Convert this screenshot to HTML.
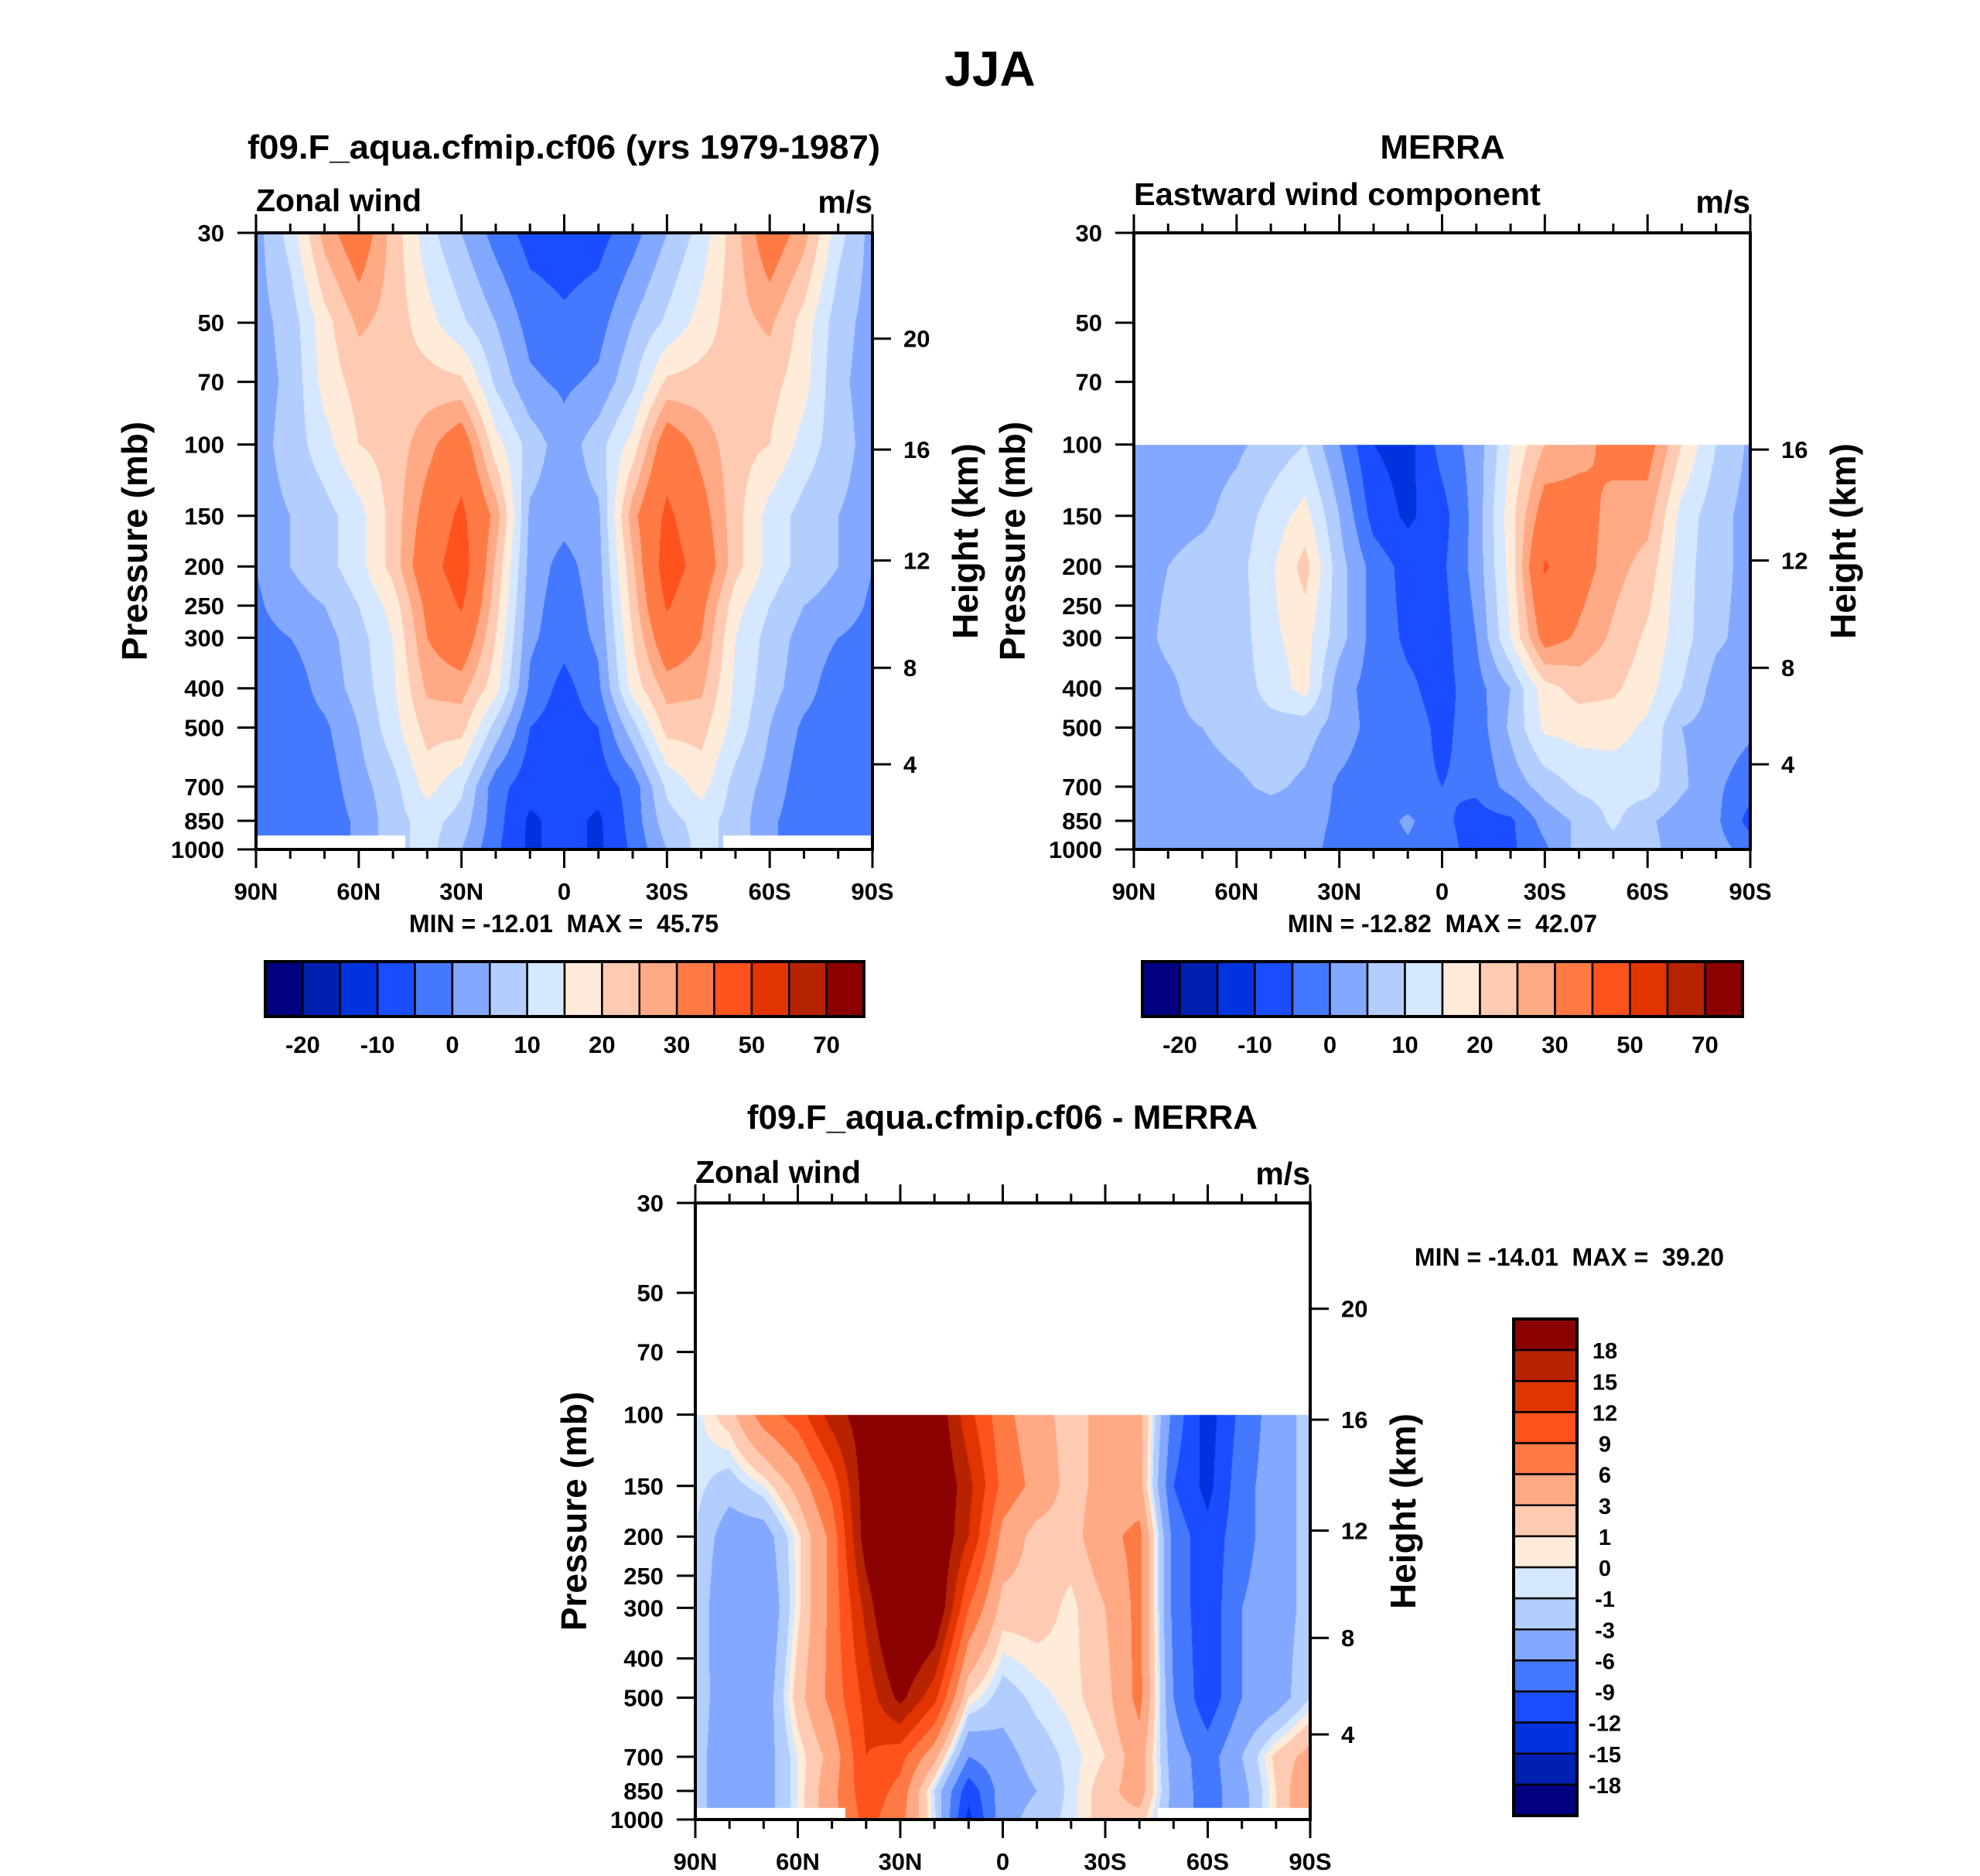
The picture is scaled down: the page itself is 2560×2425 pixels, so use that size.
<!DOCTYPE html>
<html><head><meta charset="utf-8"><style>
html,body{margin:0;padding:0;background:#fff;}
#wrap{position:relative;width:2560px;height:2425px;overflow:hidden;background:#fff;}
canvas{position:absolute;}
svg{position:absolute;left:0;top:0;}
text{font-family:"Liberation Sans",Arial,sans-serif;font-weight:bold;fill:#000;white-space:pre;}
</style></head><body>
<div id="wrap">
<canvas id="c1"></canvas>
<canvas id="c2"></canvas>
<canvas id="c3"></canvas>
<svg id="svg" width="2560" height="2425" viewBox="0 0 2560 2425"></svg>
</div>
<script>
// ---------- data ----------
const latLabels = ["90N","60N","30N","0","30S","60S","90S"];
const pTicks = [30,50,70,100,150,200,250,300,400,500,700,850,1000];
const colors = ["#000080","#0020b2","#0033dd","#1a4dff","#4478ff","#83a8ff","#b3cdff","#d6e8ff","#ffebda","#fecbb2","#ffaa85","#ff7a45","#ff521c","#e23400","#b72200","#8b0000"];
const levelsAbs = [-20,-15,-10,-5,0,5,10,15,20,25,30,40,50,60,70];
const levelsDiff = [-18,-15,-12,-9,-6,-3,-1,0,1,3,6,9,12,15,18];
const cbAbsLabels = ["-20","-10","0","10","20","30","50","70"];
const cbDiffLabels = ["-18","-15","-12","-9","-6","-3","-1","0","1","3","6","9","12","15","18"];

// model (lat 90N..90S every 10deg)
const modelP = [30,50,70,100,150,200,250,300,400,500,700,850,1000];
const model30  = [3,12,27,35,23,12,5,-2,-7,-8,-7,-2,5,12,23,35,27,12,3];
const model50  = [3,7,18,26,23,17,11,5,-2,-4,-2,5,11,17,23,26,18,7,3];
const model70  = [3,6,17,22,22,22,21,9,1,-1,1,9,21,22,22,22,17,6,3];
const model100 = [3,7,13,20,22,28,35,17,8,2,8,17,35,28,22,20,13,7,3];
const model150 = [3,5,8,13,22,33,42,28,4,2,4,28,42,33,22,13,8,5,3];
const model200 = [0,5,8,13,22,36,45,24,3,-2,3,24,45,36,22,13,8,5,0];
const model250 = [-1,3,5,10,17,32,41,22,2,-3,2,22,41,32,17,10,5,3,-1];
const model300 = [-2,0,3,8,15,30,36,20,1,-3,1,20,36,30,15,8,3,0,-2];
const model400 = [-3,-3,2,7,14,26,27,17,-1,-7,-1,17,27,26,14,7,2,-3,-3];
const model500 = [-3,-3,-1,5,13,22,22,8,-5,-8,-5,8,22,22,13,5,-1,-3,-3];
const model700 = [-3,-3,-3,3,8,17,11,-3,-8,-8,-8,-3,11,17,8,3,-3,-3,-3];
const model850 = [-3,-3,-3,1,8,12,8,-3,-11,-8,-11,-3,8,12,8,1,-3,-3,-3];
const model1000= [-3,-3,-3,1,8,12,5,-4,-11,-8,-11,-4,5,12,8,1,-3,-3,-3];

// MERRA
const merraP = [100,150,200,300,400,500,700,850,1000];
const merra100 = [2,3,3,4,7,10,0,-10,-12,-3,2,15,25,28,32,33,20,10,4];
const merra150 = [2,3,4,7,12,17,5,-7,-11,-7,2,18,34,33,28,27,13,7,3];
const merra200 = [3,5,7,8,14,22,7,-2,-7,-6,2,17,41,33,27,23,12,7,3];
const merra300 = [3,6,7,7,14,17,7,-2,-6,-7,0,15,33,29,24,19,12,6,3];
const merra400 = [3,4,7,7,12,17,2,-2,-4,-7,-2,5,18,22,21,17,10,3,2];
const merra500 = [3,4,5,7,8,7,3,-2,-3,-6,-3,6,16,17,17,14,5,3,1];
const merra700 = [2,3,3,4,6,4,-1,-3,-4,-5,-4,2,7,11,12,12,6,1,-3];
const merra850 = [2,2,2,2,2,2,-1,-3,1,-4,-7,-6,2,6,11,6,2,1,-7];
const merra1000= [2,1,2,2,2,2,-2,-3,-1,-3,-7,-6,-1,7,8,7,2,2,-2];

// difference
const diffP = [100,150,200,300,500,700,850,1000];
const diff100 = [-0.5,2,7.5,10.5,16.5,20,22,21,13,7,4,2,4,4,-7,-13.5,-8,-4.5,-2];
const diff150 = [-0.5,-2,0,4,10,20,22,22,16,8,5,2,4,4,-9,-13,-7,-4.5,-2];
const diff200 = [-1,-4.5,-4.5,0.5,7,20,25,22,15,5,2,2,5,7,-7,-11,-7,-4.5,-2];
const diff300 = [-1,-6,-6,0.5,7,16,25,22,9,2,2,0.5,3,7,-7,-11,-6,-4.5,-2];
const diff500 = [-1.5,-5,-5,2,7,13,19,13,1,-2,-0.5,0.5,2,7,-6,-11,-6,-4.5,-1];
const diff700 = [-2,-5,-4.5,0,4,12,10,4,-6,-4,-2,-0.5,1,4.5,-4.5,-7.5,-3,1.5,4];
const diff850 = [-2,-5,-4.5,0,5,11,8,-1,-11,-4.5,-3,-0.5,2,4.5,-4,-7.5,-4,1,6];
const diff1000= [-2,-5,-4.5,0,5,10,7,-0.5,-13,-4,-2,-0.5,2,2,-4,-7.5,-4,1,6];

const modelRows = [model30,model50,model70,model100,model150,model200,model250,model300,model400,model500,model700,model850,model1000];
const merraRows = [merra100,merra150,merra200,merra300,merra400,merra500,merra700,merra850,merra1000];
const diffRows = [diff100,diff150,diff200,diff300,diff500,diff700,diff850,diff1000];

// ---------- helpers ----------
const NS = "http://www.w3.org/2000/svg";
const svg = document.getElementById('svg');
function mk(tag, attrs, parent){ const e=document.createElementNS(NS,tag); for(const k in attrs) e.setAttribute(k,attrs[k]); (parent||svg).appendChild(e); return e; }
function txt(s, x, y, size, anchor, parent, extra){ const t=mk('text',Object.assign({x:x,y:y,'font-size':size,'text-anchor':anchor||'start'},extra||{}),parent); t.textContent=s; return t; }
const LOGR = Math.log10(1000/30);
function yOf(P,p){ return P.y + P.h*Math.log10(p/30)/LOGR; }
function xOf(P,i){ return P.x + P.w*i/18; }
function stdP(zkm){ const z=zkm*1000; if(z<=11000) return 1013.25*Math.pow(1-2.25577e-5*z,5.25588); return 226.32*Math.exp(-1.577e-4*(z-11000)); }
function hex(c){ return [parseInt(c.substr(1,2),16),parseInt(c.substr(3,2),16),parseInt(c.substr(5,2),16)]; }
const rgb = colors.map(hex);
function levelIndex(v, lev){ let k=0; while(k<lev.length && v>=lev[k]) k++; return k; }

function drawField(canvasId, P, pLev, rows, lev, mask){
  const cv=document.getElementById(canvasId);
  cv.width=P.w; cv.height=P.h; cv.style.left=P.x+'px'; cv.style.top=P.y+'px';
  const ctx=cv.getContext('2d'); const img=ctx.createImageData(P.w,P.h); const d=img.data;
  const lp=pLev.map(p=>Math.log10(p));
  for(let py=0;py<P.h;py++){
    const p=30*Math.pow(10,(py+0.5)/P.h*LOGR); const l=Math.log10(p);
    let rowOK = p>=pLev[0]-0.01;
    let r=0; while(r<lp.length-2 && l>lp[r+1]) r++;
    let t=(l-lp[r])/(lp[r+1]-lp[r]); t=Math.max(0,Math.min(1,t));
    for(let px=0;px<P.w;px++){
      const o=(py*P.w+px)*4;
      let c=[255,255,255];
      const u=(px+0.5)/P.w*18;
      if(rowOK && !(mask && p>mask.p && (u<mask.a || u>mask.b))){
        const i=Math.min(17,Math.floor(u)); const s=u-i;
        const a=rows[r], b=rows[r+1];
        const v=(1-t)*((1-s)*a[i]+s*a[i+1])+t*((1-s)*b[i]+s*b[i+1]);
        c=rgb[levelIndex(v,lev)];
      }
      d[o]=c[0];d[o+1]=c[1];d[o+2]=c[2];d[o+3]=255;
    }
  }
  ctx.putImageData(img,0,0);
}

function drawAxes(P, name, heightTicks){
  const g=mk('g',{});
  
  
  const sw=4;
  const fr=mk('rect',{x:P.x,y:P.y,width:P.w,height:P.h,fill:'none',stroke:'#000','stroke-width':sw},g);
  
  
  for(let i=0;i<=18;i++){
    const x=xOf(P,i); const major=(i%3===0); const L=major?24:12;
    mk('line',{x1:x,y1:P.y,x2:x,y2:P.y-L,stroke:'#000','stroke-width':3},g);
    mk('line',{x1:x,y1:P.y+P.h,x2:x,y2:P.y+P.h+L,stroke:'#000','stroke-width':3},g);
  }
  latLabels.forEach((s,k)=>{
    const t=txt(s,xOf(P,k*3),P.y+P.h+65,31,'middle',g);
    
    
  });
  pTicks.forEach(p=>{
    const y=yOf(P,p);
    mk('line',{x1:P.x,y1:y,x2:P.x-24,y2:y,stroke:'#000','stroke-width':3},g);
    const t=txt(String(p),P.x-41,y+11,31,'end',g);
    
    
  });
  heightTicks.forEach(z=>{
    const y=yOf(P,stdP(z));
    mk('line',{x1:P.x+P.w,y1:y,x2:P.x+P.w+24,y2:y,stroke:'#000','stroke-width':3},g);
    const t=txt(String(z),P.x+P.w+40,y+11,31,'start',g);
    
    
  });
  const cy=P.y+P.h/2;
  const yt=txt('Pressure (mb)',0,0,46,'middle',g,{transform:`translate(${P.x-141},${cy}) rotate(-90)`});
  
  
  const ht=txt('Height (km)',0,0,46,'middle',g,{transform:`translate(${P.x+P.w+136},${cy}) rotate(-90)`});
  
  
}

function hColorbar(x0,x1,y0,y1,name){
  const g=mk('g',{});
  
  
  const n=colors.length, bw=(x1-x0)/n;
  colors.forEach((c,i)=>{
    const r=mk('rect',{x:x0+i*bw,y:y0,width:bw,height:y1-y0,fill:c,stroke:'#000','stroke-width':2.5},g);
    
    
  });
  mk('rect',{x:x0,y:y0,width:x1-x0,height:y1-y0,fill:'none',stroke:'#000','stroke-width':4},g);
  cbAbsLabels.forEach((s,k)=>{
    const t=txt(s,x0+(2*k+1)*bw,1361,31,'middle',g);
    
    
  });
}

// ---------- layout ----------
const P1={x:331,y:301,w:797,h:797};
const P2={x:1466,y:301,w:797,h:797};
const P3={x:899,y:1555,w:795,h:797};

drawField('c1',P1,modelP,modelRows,levelsAbs,{p:925,a:4.35,b:13.65});
drawField('c2',P2,merraP,merraRows,levelsAbs,null);
drawField('c3',P3,diffP,diffRows,levelsDiff,{p:935,a:4.4,b:13.55});

drawAxes(P1,'model-plot',[20,16,12,8,4]);
drawAxes(P2,'merra-plot',[16,12,8,4]);
drawAxes(P3,'diff-plot',[20,16,12,8,4]);

let t;
t=txt('JJA',1280,111,64,'middle');
 
t=txt('f09.F_aqua.cfmip.cf06 (yrs 1979-1987)',729,205,44,'middle',svg,{textLength:818,lengthAdjust:'spacingAndGlyphs'});
 
t=txt('Zonal wind',P1.x,273,41,'start');
 
t=txt('m/s',P1.x+P1.w,275,41,'end');
 
t=txt('MIN = -12.01  MAX =  45.75',729,1205,32,'middle');
 

t=txt('MERRA',1865,205,44,'middle');
 
t=txt('Eastward wind component',P2.x,265,41,'start',svg,{textLength:526,lengthAdjust:'spacingAndGlyphs'});
 
t=txt('m/s',P2.x+P2.w,275,41,'end');
 
t=txt('MIN = -12.82  MAX =  42.07',1865,1205,32,'middle');
 

t=txt('f09.F_aqua.cfmip.cf06 - MERRA',1296,1459,44,'middle');
 
t=txt('Zonal wind',P3.x,1529,41,'start');
 
t=txt('m/s',P3.x+P3.w,1531,41,'end');
 
t=txt('MIN = -14.01  MAX =  39.20',2029,1636,32,'middle');
 

hColorbar(343,1117,1243,1314,'model-colorbar');
hColorbar(1477,2253,1243,1314,'merra-colorbar');

(function(){
  const g=mk('g',{});
  
  
  const x0=1957,x1=2039,y0=1705,y1=2347,n=colors.length,bh=(y1-y0)/n;
  for(let i=0;i<n;i++){
    const r=mk('rect',{x:x0,y:y0+i*bh,width:x1-x0,height:bh,fill:colors[n-1-i],stroke:'#000','stroke-width':2.5},g);
    
    
  }
  mk('rect',{x:x0,y:y0,width:x1-x0,height:y1-y0,fill:'none',stroke:'#000','stroke-width':4},g);
  cbDiffLabels.forEach((s,k)=>{
    const y=y1-(k+1)*bh;
    const tt=txt(s,2075,y+11,29,'middle',g);
    
    
  });
})();
</script>
</body></html>
